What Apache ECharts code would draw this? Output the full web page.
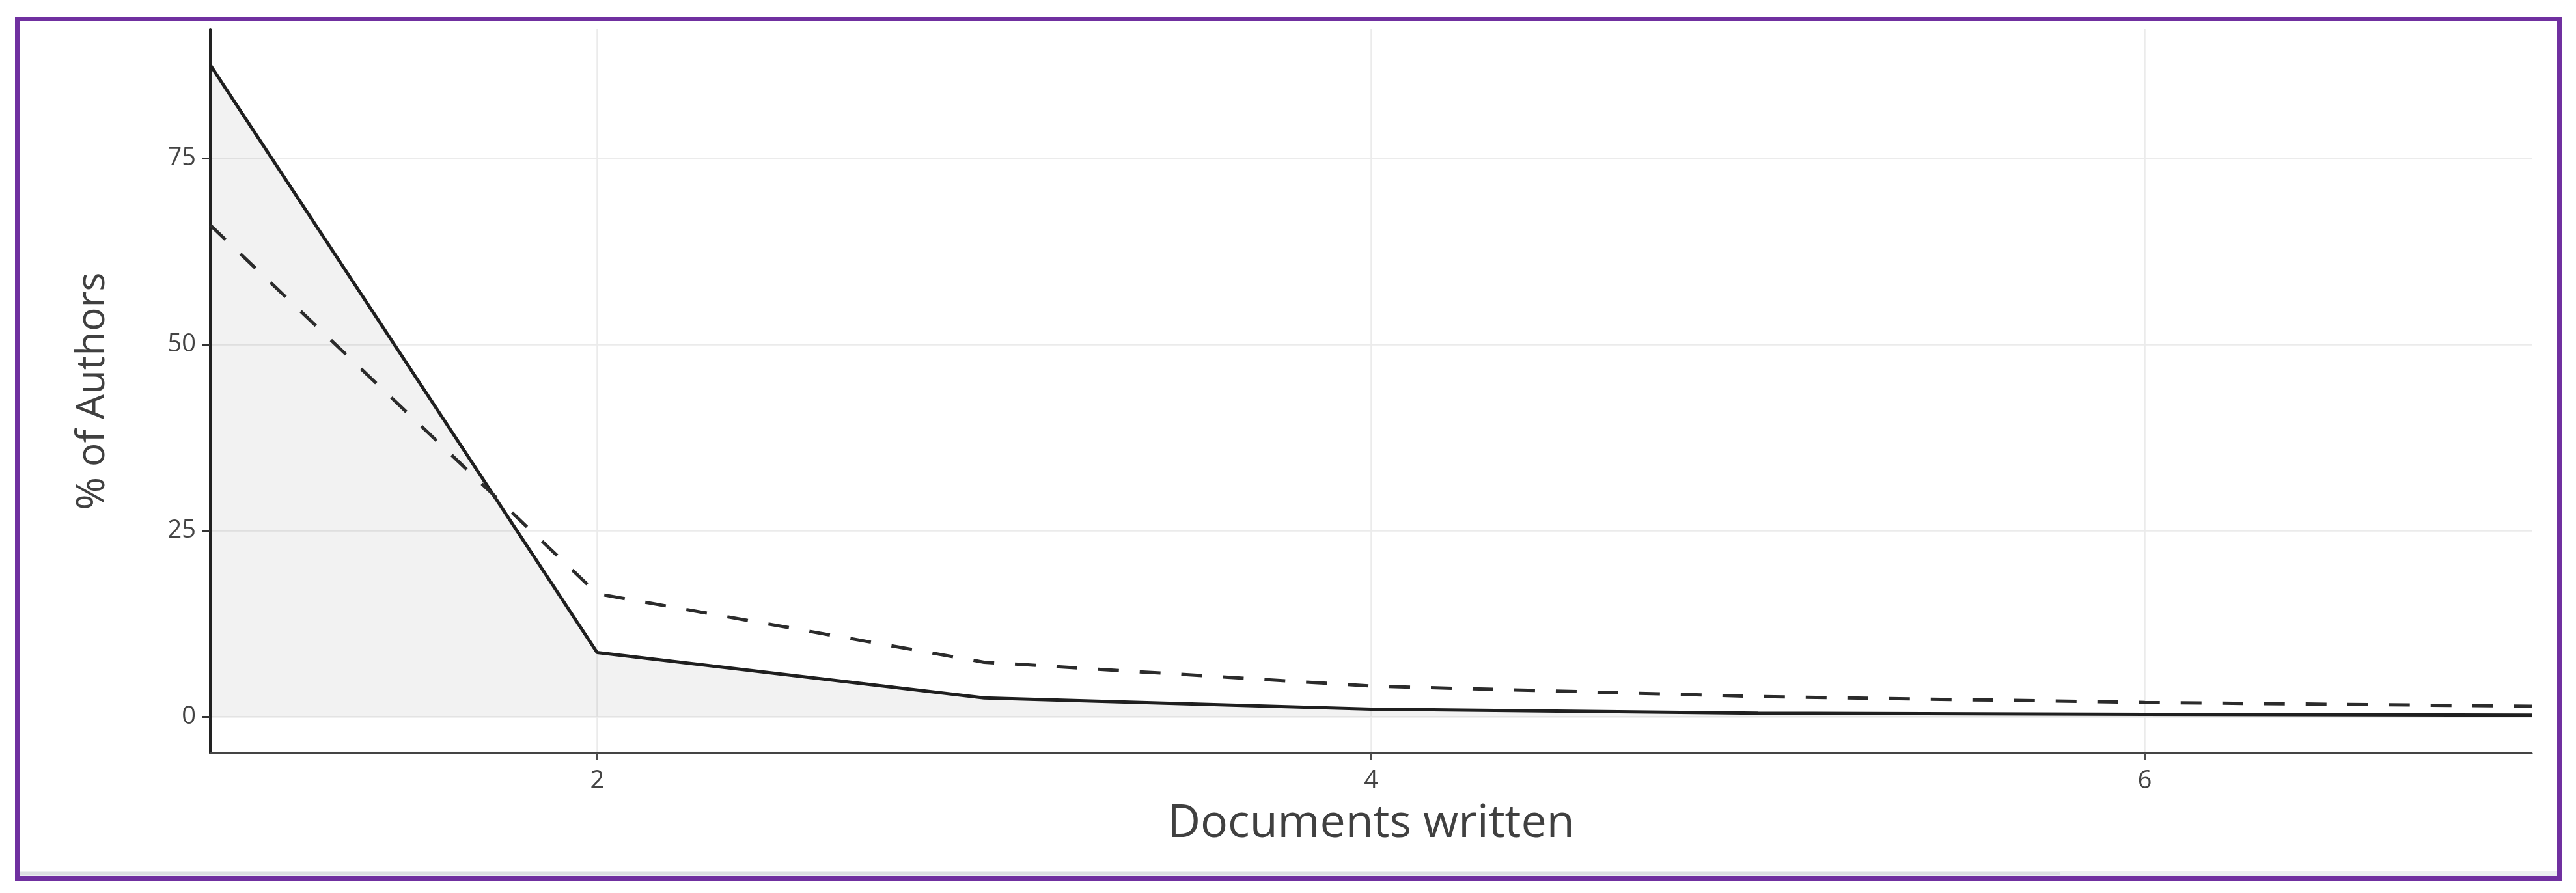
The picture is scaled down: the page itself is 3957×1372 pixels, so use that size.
<!DOCTYPE html>
<html>
<head>
<meta charset="utf-8">
<script src="https://cdn.jsdelivr.net/npm/echarts@6/dist/echarts.min.js"></script>
<style>
  html, body { margin: 0; padding: 0; background: #fff; }
  #chart { width: 3957px; height: 1372px; }
</style>
</head>
<body>
<div id="chart"></div>
<script>
// share of authors by number of documents written (observed vs Lotka's law)
var docsWritten = [1, 2, 3, 4, 5, 6, 7];
var observedPct = [87.5, 8.6, 2.5, 1.0, 0.45, 0.3, 0.2];
var lotkaPct = [66.0, 16.5, 7.3, 4.1, 2.7, 1.9, 1.4];
var xTicks = [2, 4, 6];
var yTicks = [0, 25, 50, 75];

function pairs(xs, ys) {
    return xs.map(function (x, i) { return [x, ys[i]]; });
}

var chart = echarts.init(document.getElementById('chart'));

var option = {
    animation: false,
    backgroundColor: '#fff',
    grid: { left: 323, right: 68, top: 45, bottom: 215 },
    xAxis: {
        type: 'value',
        min: 1,
        max: 7,
        name: 'Documents written',
        nameLocation: 'middle',
        nameGap: 74,
        nameTextStyle: { fontFamily: 'Open Sans', fontSize: 70, color: '#404040' },
        axisLine: { onZero: false, lineStyle: { color: '#444', width: 3 } },
        axisTick: { show: true, length: 11, customValues: xTicks, lineStyle: { color: '#4d4d4d', width: 3 } },
        axisLabel: { customValues: xTicks, margin: 24, fontFamily: 'Open Sans', fontSize: 38, color: '#444' },
        splitLine: { show: true, lineStyle: { color: '#ebebeb', width: 2.5 } }
    },
    yAxis: {
        type: 'value',
        min: -4.9,
        max: 92.3,
        name: '% of Authors',
        nameLocation: 'middle',
        nameGap: 150,
        nameRotate: 90,
        nameTextStyle: { fontFamily: 'Open Sans', fontSize: 61, color: '#404040' },
        axisLine: { show: true, onZero: false, lineStyle: { color: '#222', width: 4 } },
        axisTick: { show: true, length: 13, customValues: yTicks, lineStyle: { color: '#333', width: 3 } },
        axisLabel: { customValues: yTicks, margin: 22, fontFamily: 'Open Sans', fontSize: 38, color: '#444' },
        splitLine: { show: true, lineStyle: { color: '#ebebeb', width: 2.5 } }
    },
    series: [
        {
            name: 'Observed',
            type: 'line',
            data: pairs(docsWritten, observedPct),
            showSymbol: false,
            lineStyle: { color: '#1f1f1f', width: 5 },
            areaStyle: { color: '#000', opacity: 0.05 },
            z: 3
        },
        {
            name: 'Lotka',
            type: 'line',
            data: pairs(docsWritten, lotkaPct),
            showSymbol: false,
            lineStyle: { color: '#2b2b2b', width: 5, type: [32, 32] },
            z: 4
        }
    ],
    graphic: [
        // light scrollbar strip along the bottom of the frame
        { type: 'rect', shape: { x: 30, y: 1338, width: 3898, height: 8 }, style: { fill: '#eceff1' }, z: 10 },
        { type: 'rect', shape: { x: 30, y: 1339, width: 3134, height: 6 }, style: { fill: '#dcdfe2' }, z: 11 },
        // purple frame
        {
            type: 'rect',
            shape: { x: 26.5, y: 29.5, width: 3905, height: 1320 },
            style: { fill: 'none', stroke: '#7030a0', lineWidth: 7 },
            z: 20
        }
    ]
};

chart.setOption(option);
</script>
</body>
</html>
